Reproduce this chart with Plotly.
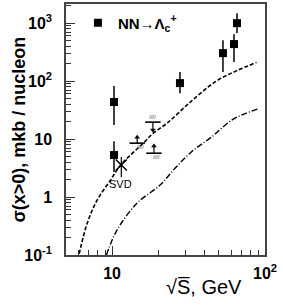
import math
import plotly.graph_objects as go

# Experimental points NN -> Lambda_c+
pts_x = [10.3, 10.3, 27.8, 53.1, 62.7, 65.6]
pts_y = [43.5, 5.3, 92.4, 304, 435, 1000]
pts_hi = [82, 9.2, 143, 509, 646, 1486]
pts_lo = [17.4, 2.7, 62, 143, 213, 673]

# SVD point
svd_x = [11.5]
svd_y = [3.56]
svd_hi = [4.9]
svd_lo = [2.2]

# Limits (bar value, arrow tip)
upper_x = [18.5]
upper_y = [19.6]
upper_tip = [14.3]
lower_x = [14.6, 18.8]
lower_y = [8.5, 5.7]
lower_tip = [10.8, 7.6]

# Model curves
dash_x = [6.1, 6.9, 8.0, 9.7, 11.3, 13.5, 16, 18.5, 23, 32, 48, 65, 88]
dash_y = [0.105, 0.36, 0.89, 1.9, 3.5, 5.6, 8.5, 12.5, 19, 42, 100, 150, 210]
dd_x = [9.2, 10, 11.3, 14.6, 20.6, 26, 33, 45, 62, 90]
dd_y = [0.1, 0.18, 0.33, 0.79, 1.61, 3.2, 6.0, 11, 22, 33]

y_ticks = [0.1, 1, 10, 100, 1000]
y_labels = ["<b>10<sup>-1</sup></b>", "<b>1</b>", "<b>10</b>", "<b>10<sup>2</sup></b>", "<b>10<sup>3</sup></b>"]
x_ticks = [10, 100]
x_labels = ["<b>10</b>", "<b>10<sup>2</sup></b>"]

FONT = "Liberation Sans, Arial, sans-serif"

fig = go.Figure()

fig.add_trace(go.Scatter(x=dash_x, y=dash_y, mode="lines", line=dict(color="black", width=1.6, dash="4px,2px"),
                         showlegend=False, line_shape="spline"))
fig.add_trace(go.Scatter(x=dd_x, y=dd_y, mode="lines", line=dict(color="black", width=1.4, dash="6px,2px,1px,2px"),
                         showlegend=False, line_shape="spline"))

fig.add_trace(go.Scatter(
    x=pts_x, y=pts_y, mode="markers",
    marker=dict(symbol="square", size=8, color="black"),
    error_y=dict(type="data", symmetric=False,
                 array=[h - v for h, v in zip(pts_hi, pts_y)],
                 arrayminus=[v - l for l, v in zip(pts_lo, pts_y)],
                 color="black", thickness=1.5, width=0),
    name="<b>NN\u2192\u039b<sub>c</sub><sup>+</sup></b>", showlegend=True))

fig.add_trace(go.Scatter(
    x=svd_x, y=svd_y, mode="markers",
    marker=dict(symbol="x-thin-open", size=11, color="black", line=dict(color="black", width=1.5)),
    error_y=dict(type="data", symmetric=False,
                 array=[h - v for h, v in zip(svd_hi, svd_y)],
                 arrayminus=[v - l for l, v in zip(svd_lo, svd_y)],
                 color="black", thickness=1.2, width=0),
    showlegend=False))
fig.add_annotation(x=math.log10(svd_x[0]), y=math.log10(svd_lo[0]), text="SVD", showarrow=False,
                   yanchor="top", yshift=1, xshift=-1, font=dict(family=FONT, size=11, color="black"))

# Limits: bar, hatch, arrow
for xs, ys, tips, hatch_dy, arrow_sym in [
        (upper_x, upper_y, upper_tip, 5, "triangle-down"),
        (lower_x, lower_y, lower_tip, -4, "triangle-up")]:
    fig.add_trace(go.Scatter(
        x=xs, y=ys, mode="markers",
        marker=dict(symbol="line-ew-open", size=11, color="black", line=dict(color="black", width=1.6)),
        showlegend=False))
    for x, y, t in zip(xs, ys, tips):
        fig.add_trace(go.Scatter(x=[x, x], y=[y, t], mode="lines",
                                 line=dict(color="black", width=1.2), showlegend=False))
        fig.add_annotation(x=math.log10(x), y=math.log10(y), text="////", showarrow=False,
                           xshift=0 if hatch_dy > 0 else 3, yshift=hatch_dy,
                           font=dict(family=FONT, size=6, color="#444"))
    fig.add_trace(go.Scatter(x=xs, y=tips, mode="markers",
                             marker=dict(symbol=arrow_sym, size=5, color="black"), showlegend=False))

minor_y = [m * 10 ** e for e in range(-1, 4) for m in range(2, 10)]
minor_x = [m * 10 ** e for e in range(0, 2) for m in range(2, 10)]

# Axis titles as annotations
fig.add_annotation(xref="paper", yref="paper", x=0, y=0.5, xshift=-48, textangle=-90,
                   text="<b>\u03c3(x>0), mkb / nucleon</b>", showarrow=False,
                   xanchor="center", yanchor="middle",
                   font=dict(family=FONT, size=18, color="black"))
fig.add_annotation(xref="paper", yref="paper", x=0.693, y=0, yshift=-32,
                   text="\u221aS\u0305, GeV", showarrow=False,
                   xanchor="center", yanchor="middle",
                   font=dict(family=FONT, size=20, color="black"))

fig.update_layout(
    width=283, height=307,
    margin=dict(l=66, r=18, t=4, b=52, autoexpand=False),
    paper_bgcolor="white", plot_bgcolor="white",
    font=dict(family=FONT, color="black"),
    legend=dict(x=0.06, y=0.99, xanchor="left", yanchor="top", bgcolor="rgba(0,0,0,0)",
                font=dict(family=FONT, size=15, color="black"), itemwidth=30,
                tracegroupgap=0),
    showlegend=True,
)
fig.update_xaxes(
    type="log", range=[0.699, 2.0], automargin=False,
    tickmode="array", tickvals=x_ticks, ticktext=x_labels,
    ticks="inside", ticklen=9, tickwidth=1.2, tickcolor="#333",
    minor=dict(tickmode="array", tickvals=minor_x, ticks="inside", ticklen=5, tickwidth=1, tickcolor="#333", showgrid=False),
    showline=True, linecolor="#444", linewidth=1.5, mirror=True, showgrid=False, zeroline=False,
    tickfont=dict(family=FONT, size=16, color="black"), ticklabelstandoff=3,
)
fig.update_yaxes(
    type="log", range=[-1.0, 3.33], automargin=False,
    tickmode="array", tickvals=y_ticks, ticktext=y_labels,
    ticks="inside", ticklen=9, tickwidth=1.2, tickcolor="#333",
    minor=dict(tickmode="array", tickvals=minor_y, ticks="inside", ticklen=5, tickwidth=1, tickcolor="#333", showgrid=False),
    showline=True, linecolor="#444", linewidth=1.5, mirror=True, showgrid=False, zeroline=False,
    tickfont=dict(family=FONT, size=16, color="black"), ticklabelstandoff=9,
)

fig.write_html("out.html", config={"displayModeBar": False, "responsive": False},
               post_script="document.body.style.margin='0';")
